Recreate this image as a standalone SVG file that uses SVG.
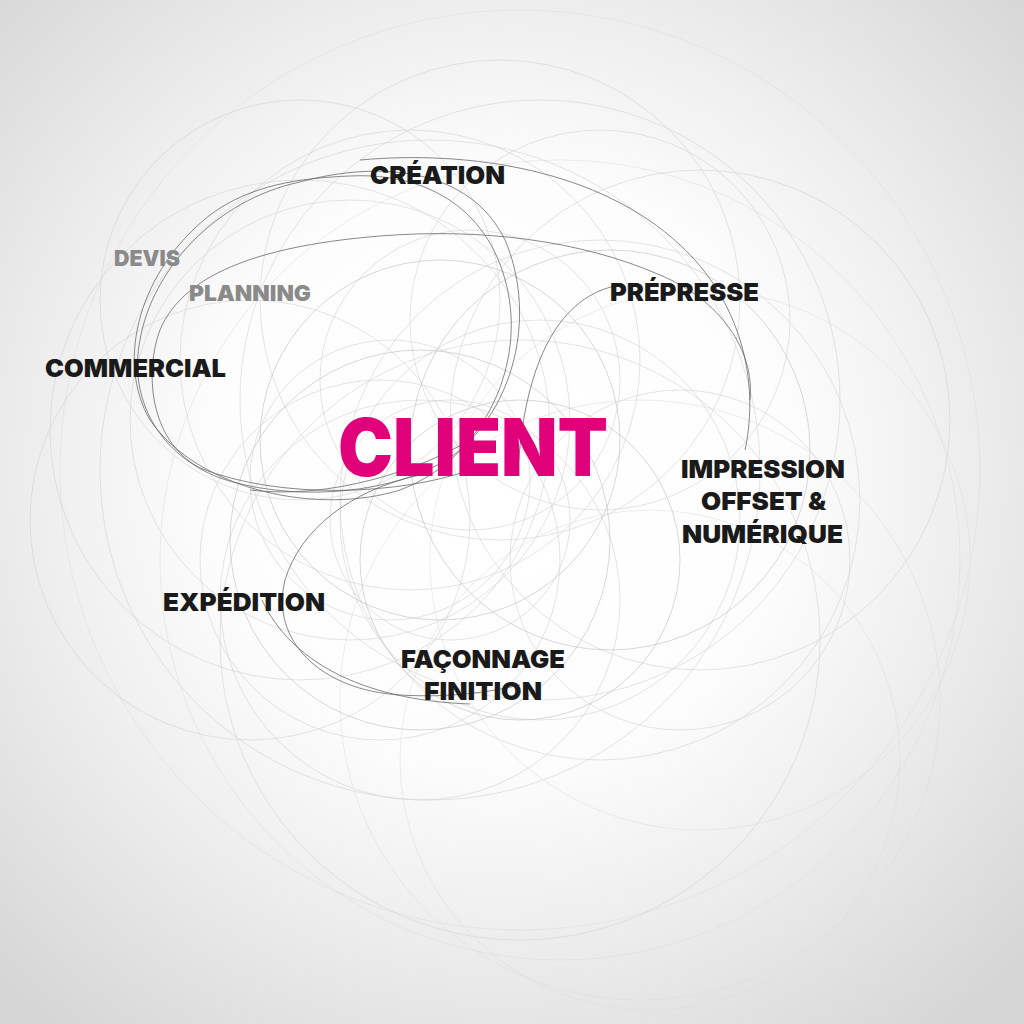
<svg xmlns="http://www.w3.org/2000/svg" width="1024" height="1024" viewBox="0 0 1024 1024">
<defs>
<radialGradient id="bg" cx="500" cy="470" r="720" gradientUnits="userSpaceOnUse">
<stop offset="0" stop-color="#ffffff"/>
<stop offset="0.4" stop-color="#fdfdfd"/>
<stop offset="0.64" stop-color="#eeeeee"/>
<stop offset="1" stop-color="#d5d5d5"/>
</radialGradient>
<style>
.f{fill:none;stroke:#d2d2d2;stroke-width:0.6}
.e{fill:none;stroke:#dadada;stroke-width:0.5}
.m{fill:none;stroke:#bdbdbd;stroke-width:0.6}
.d{fill:none;stroke:#6a6a6a;stroke-width:0.8}
text{font-family:Inter,"Liberation Sans",sans-serif;font-weight:900}
.k{fill:#1a1a1a;font-size:25px}
.g{fill:#8a8a8a;font-size:22px}
.c{fill:#e0007a;font-size:80px}
</style>
</defs>
<rect width="1024" height="1024" fill="url(#bg)"/>
<g id="faint-circles">
<circle class="f" cx="430" cy="470" r="330"/>
<circle class="e" cx="560" cy="560" r="400"/>
<circle class="f" cx="350" cy="420" r="220"/>
<circle class="f" cx="470" cy="380" r="150"/>
<circle class="f" cx="600" cy="500" r="260"/>
<circle class="f" cx="520" cy="640" r="300"/>
<circle class="f" cx="380" cy="560" r="180"/>
<circle class="f" cx="700" cy="420" r="250"/>
<circle class="f" cx="300" cy="300" r="200"/>
<circle class="e" cx="640" cy="700" r="300"/>
<circle class="f" cx="450" cy="520" r="120"/>
<circle class="f" cx="500" cy="300" r="240"/>
<circle class="f" cx="250" cy="520" r="220"/>
<circle class="f" cx="540" cy="400" r="300"/>
<circle class="f" cx="420" cy="600" r="200"/>
<circle class="f" cx="680" cy="560" r="170"/>
<circle class="e" cx="520" cy="470" r="460"/>
<circle class="f" cx="600" cy="320" r="190"/>
<circle class="f" cx="410" cy="360" r="230"/>
<circle class="e" cx="700" cy="560" r="270"/>
<circle class="f" cx="300" cy="430" r="250"/>
<circle class="e" cx="650" cy="760" r="250"/>
<circle class="f" cx="540" cy="520" r="200"/>
<circle class="f" cx="390" cy="480" r="140"/>
<circle class="m" cx="440" cy="440" r="180"/>
<circle class="m" cx="520" cy="560" r="160"/>
<circle class="m" cx="610" cy="450" r="200"/>
<circle class="m" cx="420" cy="540" r="190"/>
</g>
<g id="connectors">
<path class="d" d="M350,176 C430,172 492,212 508,292 C524,372 480,460 400,490 C320,515 200,492 150,420 C115,360 140,270 210,215 C250,185 300,178 350,176"/>
<path class="d" d="M300,182 C380,160 470,168 505,240 C535,310 518,400 460,450 C410,492 300,505 220,478 C160,455 128,400 140,340 C152,270 215,200 300,182"/>
<path class="d" d="M470,470 C400,495 280,500 200,468 C148,440 145,370 160,330 C185,270 270,245 380,236 C480,228 580,240 660,275 C720,300 755,350 750,400"/>
<path class="d" d="M360,160 C470,150 600,170 680,245 C740,300 760,380 745,450"/>
<path class="d" d="M620,285 C560,295 525,360 518,470"/>
<path class="d" d="M250,490 C330,500 420,470 470,440"/>
<path class="d" d="M420,475 C350,490 300,530 285,580 C270,640 320,690 400,695 C450,698 490,692 520,685"/>
<path class="d" d="M262,600 C290,660 360,700 470,704"/>
</g>
<g id="node-creation"><text class="k" x="370" y="184" textLength="135" lengthAdjust="spacingAndGlyphs">CRÉATION</text></g>
<g id="node-devis"><text class="g" x="114" y="266" textLength="66" lengthAdjust="spacingAndGlyphs">DEVIS</text></g>
<g id="node-planning"><text class="g" x="189" y="301" textLength="122" lengthAdjust="spacingAndGlyphs">PLANNING</text></g>
<g id="node-commercial"><text class="k" x="45" y="377" textLength="181" lengthAdjust="spacingAndGlyphs">COMMERCIAL</text></g>
<g id="node-prepresse"><text class="k" x="610" y="301" textLength="149" lengthAdjust="spacingAndGlyphs">PRÉPRESSE</text></g>
<g id="node-client"><text class="c" x="338" y="476" textLength="270" lengthAdjust="spacingAndGlyphs">CLIENT</text></g>
<g id="node-impression">
<text class="k" x="681" y="478" textLength="164" lengthAdjust="spacingAndGlyphs">IMPRESSION</text>
<text class="k" x="701" y="510" textLength="125" lengthAdjust="spacingAndGlyphs">OFFSET &amp;</text>
<text class="k" x="682" y="543" textLength="161" lengthAdjust="spacingAndGlyphs">NUMÉRIQUE</text>
</g>
<g id="node-expedition"><text class="k" x="163" y="611" textLength="162" lengthAdjust="spacingAndGlyphs">EXPÉDITION</text></g>
<g id="node-faconnage">
<text class="k" x="401" y="668" textLength="164" lengthAdjust="spacingAndGlyphs">FAÇONNAGE</text>
<text class="k" x="424" y="700" textLength="118" lengthAdjust="spacingAndGlyphs">FINITION</text>
</g>
</svg>
